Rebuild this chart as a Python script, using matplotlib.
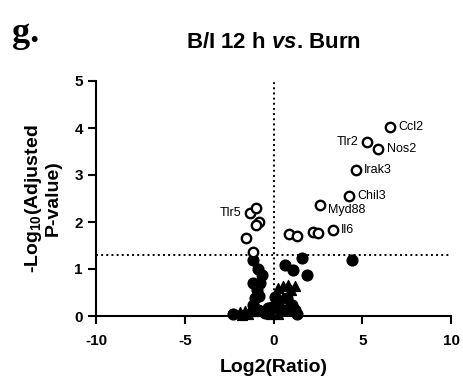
import numpy as np
import matplotlib.pyplot as plt

# significant genes (open circles)
sig_x = [6.56, 5.25, 5.90, 4.63, 4.27, 2.62, 3.33, 2.24, 2.53, 0.87, 1.34,
         -1.32, -1.00, -0.82, -1.00, -1.55, -1.14]
sig_y = [4.02, 3.70, 3.55, 3.11, 2.56, 2.37, 1.83, 1.79, 1.76, 1.74, 1.70,
         2.20, 2.30, 2.01, 1.94, 1.67, 1.37]
sig_names = ['Ccl2', 'Tlr2', 'Nos2', 'Irak3', 'Chil3', 'Myd88', 'Il6', '', '', '', '',
             'Tlr5', '', '', '', '', '']

# non significant genes (filled circles)
ns_x = [4.40, 1.62, 0.65, 1.12, 1.87, -1.14, -0.86, -0.66, -1.14, -0.76, -0.95,
        -1.04, -0.80, -1.14, -2.27, 0.08, 0.27, 0.74, 1.03, 1.21, -0.29, -0.48,
        -0.90, 0.45, -0.10, 0.60, 1.30]
ns_y = [1.19, 1.23, 1.09, 0.98, 0.87, 1.19, 1.01, 0.87, 0.70, 0.70, 0.55,
        0.38, 0.42, 0.23, 0.04, 0.41, 0.30, 0.38, 0.23, 0.13, 0.16, 0.06,
        0.12, 0.10, 0.20, 0.12, 0.05]

# triangles
tri_x = [0.27, 0.55, 0.84, 1.21, 1.00, -1.90, -1.60, -1.30, -1.00, -0.70, -0.40,
         0.10, 0.40, 0.70, 0.95, -0.15, 0.25, -1.75, -1.45, 0.55]
tri_y = [0.59, 0.63, 0.66, 0.63, 0.55, 0.08, 0.10, 0.12, 0.10, 0.13, 0.08,
         0.18, 0.22, 0.15, 0.30, 0.05, 0.05, 0.03, 0.04, 0.40]

# label offsets in points (dx, dy, ha)
offsets = {'Ccl2': (6, 0, 'left'), 'Tlr2': (-6, 0, 'right'), 'Nos2': (6, 0, 'left'),
           'Irak3': (6, 0, 'left'), 'Chil3': (6, 0, 'left'), 'Myd88': (6, -4, 'left'),
           'Il6': (6, 0, 'left'), 'Tlr5': (-6, 0, 'right')}

plt.rcParams['font.family'] = ['Liberation Sans', 'DejaVu Sans']
plt.rcParams['axes.unicode_minus'] = False
plt.rcParams['mathtext.fontset'] = 'custom'
plt.rcParams['mathtext.rm'] = 'Liberation Sans:bold'
plt.rcParams['mathtext.bf'] = 'Liberation Sans:bold'
plt.rcParams['mathtext.it'] = 'Liberation Sans:italic:bold'

fig = plt.figure(figsize=(4.63, 3.81), dpi=100)
ax = fig.add_axes([96/463, 1-316/381, (451-96)/463, (316-81)/381])

# threshold lines
ax.plot([-10, 10], [1.3, 1.3], ':', color='black', lw=1.4, clip_on=False)
ax.plot([0, 0], [0, 5.05], ':', color='black', lw=1.4, clip_on=False)

ax.scatter(tri_x, tri_y, marker='^', s=50, color='black', clip_on=False, zorder=3)
ax.scatter(ns_x, ns_y, marker='o', s=60, color='black', clip_on=False, zorder=3)
ax.scatter(sig_x, sig_y, marker='o', s=46, facecolor='white', edgecolor='black',
           linewidths=1.7, clip_on=False, zorder=4)

for x, y, name in zip(sig_x, sig_y, sig_names):
    if name:
        dx, dy, ha = offsets[name]
        ax.annotate(name, (x, y), xytext=(dx, dy), textcoords='offset points',
                    ha=ha, va='center', fontsize=9)

ax.set_xlim(-10, 10)
ax.set_ylim(0, 5)
ax.set_xticks([-10, -5, 0, 5, 10])
ax.set_yticks([0, 1, 2, 3, 4, 5])
for s in ['top', 'right']:
    ax.spines[s].set_visible(False)
for s in ['left', 'bottom']:
    ax.spines[s].set_linewidth(1.5)
ax.tick_params(width=1.5, length=6, labelsize=11)
ax.tick_params(axis='x', pad=7)
for lab in ax.get_xticklabels() + ax.get_yticklabels():
    lab.set_fontweight('bold')

ax.set_xlabel('Log2(Ratio)', fontsize=14, fontweight='bold', labelpad=8)
ax.set_ylabel('-Log$_{10}$(Adjusted\nP-value)', fontsize=14, fontweight='bold',
              labelpad=9, linespacing=1.05)
ax.set_title('B/I 12 h $\\mathit{vs}$. Burn', fontsize=16, fontweight='bold', pad=24)

fig.text(12/463, 1-42/381, 'g.', fontsize=26, fontweight='bold', family='Liberation Serif')

fig.savefig('out.png', dpi=100)
